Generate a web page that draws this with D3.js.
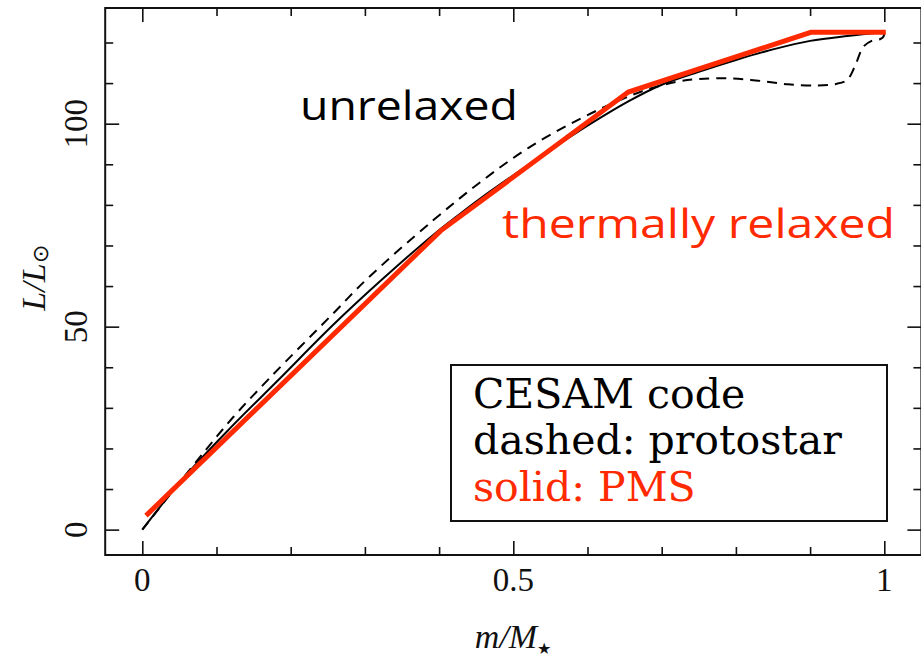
<!DOCTYPE html>
<html>
<head>
<meta charset="utf-8">
<script src="https://cdn.jsdelivr.net/npm/d3@7"></script>
<style>
  html, body { margin: 0; padding: 0; background: #fff; }
  svg { display: block; }
</style>
</head>
<body>
<svg id="chart" width="921" height="660"></svg>
<script>
// Luminosity profile L(m)/L_sun against fractional mass m/M*
// PMS (thermally relaxed) model, red solid
const pmsM = [0.005, 0.402, 0.655, 0.901, 1.002];
const pmsL = [3.45, 73.6, 107.8, 122.5, 122.5];

// Reference relaxed profile, black solid
const relaxedM = [0.0, 0.0575, 0.12, 0.183, 0.257, 0.323, 0.392, 0.424, 0.455, 0.5, 0.55, 0.6, 0.655, 0.7, 0.75, 0.8, 0.85, 0.9, 0.95, 1.0];
const relaxedL = [0.0, 13.1, 25.3, 36.8, 50.4, 61.6, 72.6, 77.2, 81.5, 87.3, 93.5, 99.5, 105.5, 109.6, 112.8, 115.7, 118.3, 120.4, 121.6, 122.5];

// Protostar (unrelaxed) profile, black dashed
const protoM = [0.0, 0.073, 0.123, 0.172, 0.257, 0.302, 0.392, 0.457, 0.52, 0.59, 0.64, 0.68, 0.72, 0.75, 0.79, 0.83, 0.87, 0.91, 0.935, 0.95, 0.96, 0.972, 0.983, 0.994, 0.999, 1.0];
const protoL = [0.0, 16.8, 27.8, 37.4, 53.2, 61.6, 76.2, 85.8, 94.0, 101.2, 105.5, 108.4, 110.3, 111.0, 111.2, 110.6, 109.7, 109.4, 109.8, 110.8, 114.0, 119.0, 120.4, 120.8, 121.5, 124.0];

// Axis ticks
const xMajorTicks = [0, 0.5, 1];
const xMajorLabels = ["0", "0.5", "1"];
const xMinorTicks = [0.1, 0.2, 0.3, 0.4, 0.6, 0.7, 0.8, 0.9];
const yMajorTicks = [0, 50, 100];
const yMajorLabels = ["0", "50", "100"];
const yMinorTicks = [10, 20, 30, 40, 60, 70, 80, 90, 110, 120];

// Annotations and legend
const legendLines = ["CESAM code", "dashed: protostar", "solid: PMS"];
const legendColors = ["#000", "#000", "#ff2a00"];

const RED = "#ff2a00";

const svg = d3.select("#chart");

const x = d3.scaleLinear().domain([-0.05, 1.05]).range([105.2, 921.4]);
const y = d3.scaleLinear().domain([-6.25, 128.5]).range([555, 8]);

const x0 = x.range()[0], x1 = x.range()[1];
const yB = y.range()[0], yT = y.range()[1];

// Frame
svg.append("rect")
  .attr("x", x0).attr("y", yT)
  .attr("width", x1 - x0).attr("height", yB - yT)
  .attr("fill", "none").attr("stroke", "#111").attr("stroke-width", 2);

// Axes with inward ticks on all four sides
function tickAxis(axisFn, scale, values, len) {
  return axisFn(scale).tickValues(values).tickSizeInner(-len).tickSizeOuter(0).tickFormat("");
}
function drawAxis(g) {
  g.select(".domain").remove();
  g.selectAll(".tick line").attr("stroke", "#111").attr("stroke-width", 1.6);
}
svg.append("g").attr("transform", `translate(0,${yB})`)
  .call(tickAxis(d3.axisBottom, x, xMajorTicks, 14)).call(drawAxis);
svg.append("g").attr("transform", `translate(0,${yB})`)
  .call(tickAxis(d3.axisBottom, x, xMinorTicks, 8)).call(drawAxis);
svg.append("g").attr("transform", `translate(0,${yT})`)
  .call(tickAxis(d3.axisTop, x, xMajorTicks, 14)).call(drawAxis);
svg.append("g").attr("transform", `translate(0,${yT})`)
  .call(tickAxis(d3.axisTop, x, xMinorTicks, 8)).call(drawAxis);
svg.append("g").attr("transform", `translate(${x0},0)`)
  .call(tickAxis(d3.axisLeft, y, yMajorTicks, 14)).call(drawAxis);
svg.append("g").attr("transform", `translate(${x0},0)`)
  .call(tickAxis(d3.axisLeft, y, yMinorTicks, 8)).call(drawAxis);
svg.append("g").attr("transform", `translate(${x1},0)`)
  .call(tickAxis(d3.axisRight, y, yMajorTicks, 14)).call(drawAxis);
svg.append("g").attr("transform", `translate(${x1},0)`)
  .call(tickAxis(d3.axisRight, y, yMinorTicks, 8)).call(drawAxis);

// Tick labels
const tickFont = "'Liberation Serif', 'Times New Roman', serif";
svg.append("g").selectAll("text").data(xMajorTicks).join("text")
  .attr("x", d => x(d)).attr("y", 591)
  .attr("text-anchor", "middle")
  .attr("font-family", tickFont).attr("font-size", 33).attr("fill", "#111")
  .text((d, i) => xMajorLabels[i]);
svg.append("g").selectAll("text").data(yMajorTicks).join("text")
  .attr("transform", d => `translate(87,${y(d)}) rotate(-90)`)
  .attr("text-anchor", "middle")
  .attr("font-family", tickFont).attr("font-size", 33).attr("fill", "#111")
  .text((d, i) => yMajorLabels[i]);

// Axis titles
const xt = svg.append("text")
  .attr("x", 513).attr("y", 648).attr("text-anchor", "middle")
  .attr("font-family", tickFont).attr("font-size", 34).attr("fill", "#111");
xt.append("tspan").attr("font-style", "italic").text("m/M");
xt.append("tspan").attr("font-size", 16).attr("dy", 6).text("★");

const yt = svg.append("text")
  .attr("transform", "translate(45,278) rotate(-90)").attr("text-anchor", "middle")
  .attr("font-family", tickFont).attr("font-size", 34).attr("fill", "#111");
yt.append("tspan").attr("font-style", "italic").text("L/L");
yt.append("tspan").attr("font-size", 22).attr("dy", 3).text("⊙");

// Curves
const lineGen = (mArr, lArr, curve) => d3.line()
  .x((d, i) => x(mArr[i])).y((d, i) => y(lArr[i])).curve(curve)(mArr);

svg.append("path")
  .attr("d", lineGen(protoM, protoL, d3.curveCatmullRom.alpha(0.5)))
  .attr("fill", "none").attr("stroke", "#000").attr("stroke-width", 2)
  .attr("stroke-dasharray", "10,7");

svg.append("path")
  .attr("d", lineGen(relaxedM, relaxedL, d3.curveCatmullRom.alpha(0.5)))
  .attr("fill", "none").attr("stroke", "#000").attr("stroke-width", 2);

svg.append("path")
  .attr("d", lineGen(pmsM, pmsL, d3.curveLinear))
  .attr("fill", "none").attr("stroke", RED).attr("stroke-width", 5)
  .attr("stroke-linejoin", "miter");

// Annotations
const noteFont = "'Comic Sans MS', 'Open Sans', sans-serif";
svg.append("text")
  .attr("x", 300).attr("y", 120)
  .attr("font-family", noteFont).attr("font-size", 40).attr("fill", "#000")
  .attr("textLength", 218).attr("lengthAdjust", "spacingAndGlyphs")
  .text("unrelaxed");
svg.append("text")
  .attr("x", 502).attr("y", 238)
  .attr("font-family", noteFont).attr("font-size", 40).attr("fill", RED)
  .attr("textLength", 393).attr("lengthAdjust", "spacingAndGlyphs")
  .text("thermally relaxed");

// Legend box
svg.append("rect")
  .attr("x", 451).attr("y", 365).attr("width", 436).attr("height", 156)
  .attr("fill", "#fff").attr("stroke", "#111").attr("stroke-width", 2);
svg.append("g").selectAll("text").data(legendLines).join("text")
  .attr("x", 473).attr("y", (d, i) => 408 + i * 46.3)
  .attr("font-family", "'DejaVu Serif', serif").attr("font-size", 41)
  .attr("fill", (d, i) => legendColors[i])
  .text(d => d);
</script>
</body>
</html>
